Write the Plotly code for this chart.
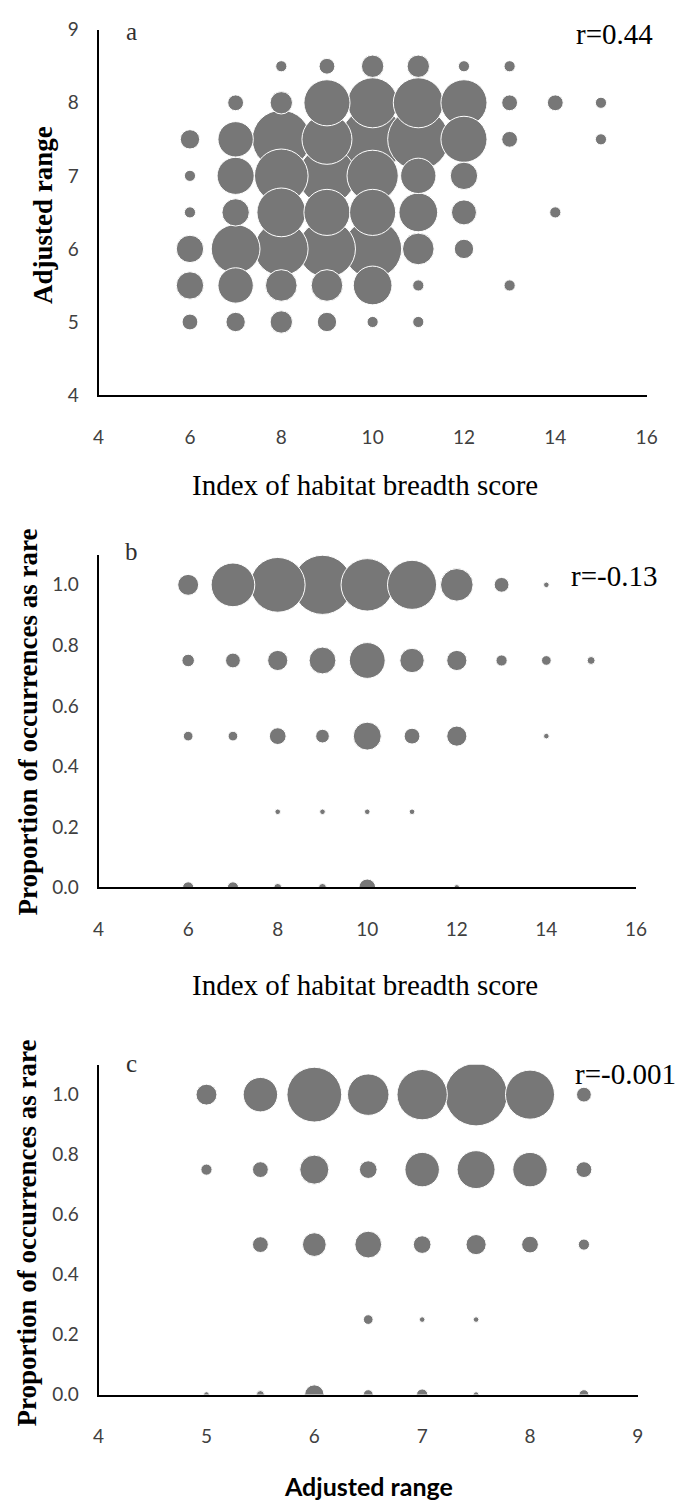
import plotly.graph_objects as go

W, H = 682, 1505

# ---------------- data ----------------
# Panel a: index of habitat breadth score vs adjusted range; bubble = number of species
a_score = [8, 9, 10, 11, 12, 13,
           7, 8, 9, 10, 11, 12, 13, 14, 15,
           6, 7, 8, 9, 10, 11, 12, 13, 15,
           6, 7, 8, 9, 10, 11, 12,
           6, 7, 8, 9, 10, 11, 12, 14,
           6, 7, 8, 9, 10, 11, 12,
           6, 7, 8, 9, 10, 11, 13,
           6, 7, 8, 9, 10, 11]
a_range = [8.5] * 6 + [8.0] * 9 + [7.5] * 9 + [7.0] * 7 + [6.5] * 8 + [6.0] * 7 + [5.5] * 7 + [5.0] * 6
a_species = [1, 2, 4, 4, 1, 1,
             2, 4, 17, 20, 20, 17, 2, 2, 1,
             3, 10, 27, 20, 32, 30, 17, 2, 1,
             1, 11, 23, 26, 21, 10, 6,
             1, 6, 19, 17, 17, 12, 5, 1,
             6, 19, 23, 26, 27, 8, 3,
             6, 10, 8, 8, 12, 1, 1,
             2, 3, 4, 3, 1, 1]

# Panel b: index of habitat breadth score vs proportion of occurrences as rare
b_score = [6, 7, 8, 9, 10, 11, 12, 13, 14,
           6, 7, 8, 9, 10, 11, 12, 13, 14, 15,
           6, 7, 8, 9, 10, 11, 12, 14,
           8, 9, 10, 11,
           6, 7, 8, 9, 10, 12]
b_prop = [1.0] * 9 + [0.75] * 10 + [0.5] * 8 + [0.25] * 4 + [0.0] * 6
b_species = [14, 61, 96, 112, 88, 77, 34, 7, 1,
             5, 7, 13, 23, 41, 19, 13, 4, 3, 2,
             3, 3, 9, 6, 25, 8, 13, 1,
             1, 1, 1, 1,
             4, 4, 2, 2, 9, 1]

# Panel c: adjusted range vs proportion of occurrences as rare
c_range = [5, 5.5, 6, 6.5, 7, 7.5, 8, 8.5,
           5, 5.5, 6, 6.5, 7, 7.5, 8, 8.5,
           5.5, 6, 6.5, 7, 7.5, 8, 8.5,
           6.5, 7, 7.5,
           5, 5.5, 6, 6.5, 7, 7.5, 8.5]
c_prop = [1.0] * 8 + [0.75] * 8 + [0.5] * 7 + [0.25] * 3 + [0.0] * 7
c_species = [14, 38, 96, 55, 81, 125, 77, 7,
             4, 8, 27, 10, 38, 46, 38, 8,
             8, 18, 23, 10, 13, 9, 4,
             3, 1, 1,
             1, 2, 12, 3, 4, 1, 3]

r_labels = ["r=0.44", "r=-0.13", "r=-0.001"]
panel_letters = ["a", "b", "c"]
score_ticks = [4, 6, 8, 10, 12, 14, 16]
range_ticks = [4, 5, 6, 7, 8, 9]
prop_ticks = [0.0, 0.2, 0.4, 0.6, 0.8, 1.0]

# ---------------- styling ----------------
BUBBLE = "#777777"
TICKFONT = dict(family="Lato", size=19, color="#404040")
SERIF = "Liberation Serif"


def px(x, y):
    return x / W, 1 - y / H


def bubbles(xs, ys, ns, sizeref, xa, ya):
    order = sorted(range(len(ns)), key=lambda i: -ns[i])
    return go.Scatter(
        x=[xs[i] for i in order], y=[ys[i] for i in order], mode="markers",
        xaxis=xa, yaxis=ya,
        marker=dict(size=[ns[i] for i in order], sizemode="area", sizeref=sizeref,
                    color=BUBBLE, opacity=1, line=dict(color="white", width=1)),
        hoverinfo="x+y", showlegend=False)


fig = go.Figure()
fig.add_trace(bubbles(a_score, a_range, a_species, 0.0160, "x", "y"))
fig.add_trace(bubbles(b_score, b_prop, b_species, 0.0640, "x2", "y2"))
fig.add_trace(bubbles(c_range, c_prop, c_species, 0.0640, "x3", "y3"))

common = dict(showline=True, linecolor="black", linewidth=2, showgrid=False,
              zeroline=False, ticks="", tickfont=TICKFONT, mirror=False)


def dom_x(x0, x1):
    return [x0 / W, x1 / W]


def dom_y(ytop, ybot):
    return [1 - ybot / H, 1 - ytop / H]


fig.update_layout(
    width=W, height=H, margin=dict(l=0, r=0, t=0, b=0),
    paper_bgcolor="white", plot_bgcolor="white", showlegend=False,
    xaxis=dict(common, domain=dom_x(95, 657), range=[4, 16], tickvals=score_ticks,
               anchor="y", ticklabelstandoff=24),
    yaxis=dict(common, domain=dom_y(18, 389), range=[4, 9], tickvals=range_ticks,
               anchor="x", ticklabelstandoff=14),
    xaxis2=dict(common, domain=dom_x(95, 646), range=[4, 16], tickvals=score_ticks,
                anchor="y2", ticklabelstandoff=24),
    yaxis2=dict(common, domain=dom_y(551, 889), range=[0, 1.1], tickvals=prop_ticks,
                tickformat=".1f", anchor="x2", ticklabelstandoff=14),
    xaxis3=dict(common, domain=dom_x(95, 648), range=[4, 9], tickvals=range_ticks,
                anchor="y3", ticklabelstandoff=24),
    yaxis3=dict(common, domain=dom_y(1069, 1404), range=[0, 1.1], tickvals=prop_ticks,
                tickformat=".1f", anchor="x3", ticklabelstandoff=14),
)

ann = []


def add_text(text, x, y, font, xanchor="center", yanchor="middle", angle=0):
    xp, yp = px(x, y)
    ann.append(dict(text=text, x=xp, y=yp, xref="paper", yref="paper", showarrow=False,
                    xanchor=xanchor, yanchor=yanchor, textangle=angle, font=font))


rfont = dict(family=SERIF, size=29, color="black")
add_text(r_labels[0], 583, 22, rfont, xanchor="left")
add_text(r_labels[1], 577, 573, rfont, xanchor="left")
add_text(r_labels[2], 581, 1078, rfont, xanchor="left")

lfont = dict(family=SERIF, size=25, color="#303030")
add_text(panel_letters[0], 129, 20, lfont)
add_text(panel_letters[1], 129, 548, lfont)
add_text(panel_letters[2], 129, 1068, lfont)

xtfont = dict(family=SERIF, size=29, color="black")
add_text("Index of habitat breadth score", 368, 480, xtfont)
add_text("Index of habitat breadth score", 368, 988, xtfont)

ytfont = dict(family=SERIF, size=27, color="black")
add_text("<b>Adjusted range</b>", 38, 206, ytfont, angle=-90)
add_text("<b>Proportion of occurrences as rare</b>", 23, 721, ytfont, angle=-90)
add_text("<b>Proportion of occurrences as rare</b>", 22, 1240, ytfont, angle=-90)

add_text("<b>Adjusted range</b>", 372, 1497, dict(family="Lato", size=25, color="black"))

fig.update_layout(annotations=ann)
fig.write_html("out.html")
